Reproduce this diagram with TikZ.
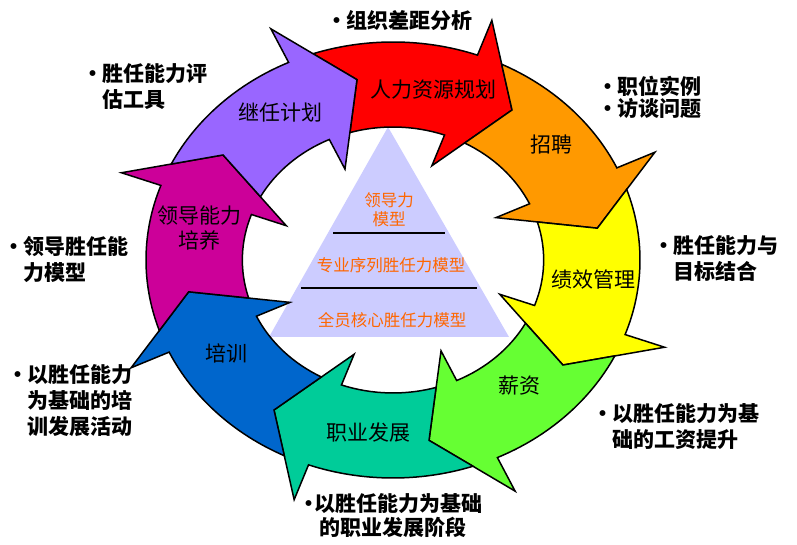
\documentclass[tikz,border=0pt]{standalone}
\usepackage{fontspec}
\newfontfamily\cjk{Noto Sans CJK SC}
\definecolor{cRed}{RGB}{255,0,0}
\definecolor{cOrange}{RGB}{255,153,0}
\definecolor{cYellow}{RGB}{255,255,0}
\definecolor{cGreen}{RGB}{102,255,51}
\definecolor{cTeal}{RGB}{0,204,153}
\definecolor{cBlue}{RGB}{0,102,204}
\definecolor{cMagenta}{RGB}{204,0,153}
\definecolor{cPurple}{RGB}{153,102,255}
\definecolor{cTri}{RGB}{204,204,255}
\definecolor{cTxt}{RGB}{255,102,0}
\newcommand{\bul}{\makebox[18pt][c]{•}}
\newcommand{\ind}{\hspace*{18pt}}
\tikzset{
  seg/.style={draw=black, line width=1.5pt, line join=miter, miter limit=6},
  inlbl/.style={font=\cjk\fontsize{21}{25}\selectfont, inner sep=0pt, align=center},
  tritxt/.style={font=\cjk\fontsize{16.5}{19}\selectfont, text=cTxt, inner sep=0pt, align=center},
  outlbl/.style={font=\cjk\bfseries\fontsize{21}{26}\selectfont, inner sep=0pt, align=left, anchor=west},
  triline/.style={draw=black, line width=1.6pt},
}
\begin{document}
\begin{tikzpicture}[x=1pt,y=1pt]
\useasboundingbox (0,0) rectangle (797,545);
\fill[white] (0,0) rectangle (797,545);
% pyramid
\fill[cTri] (388,418) -- (269,208) -- (509,208) -- cycle;
\draw[triline] (333,312) -- (445,312);
\draw[triline] (301,257) -- (477,257);
% ring of arrows
\begin{scope}[shift={(393,285)}, xscale=247, yscale=218]
  \foreach \ang/\col in {70/cRed, 25/cOrange, -20/cYellow, -65/cGreen, -110/cTeal, -155/cBlue, -200/cMagenta, -245/cPurple}{
    \draw[seg, fill=\col, rotate=\ang]
      (38.9:1) arc[start angle=38.9, end angle=0, radius=1]
      -- (0:1.17) -- (-15:0.84) -- (0:0.46) -- (0:0.61)
      arc[start angle=0, end angle=36.6, radius=0.61]
      -- (30:0.84) -- cycle;
  }
\end{scope}
% arrow labels
\node[inlbl] (hr)   at (433,455) {人力资源规划};
\node[inlbl] (zp)   at (551,400) {招聘};
\node[inlbl] (jx)   at (593,265) {绩效管理};
\node[inlbl] (xz)   at (519,159) {薪资};
\node[inlbl] (zy)   at (368,112) {职业发展};
\node[inlbl] (px)   at (226,192) {培训};
\node[inlbl] (ld)   at (199,317) {领导能力\\培养};
\node[inlbl] (jr)   at (280,432) {继任计划};
% pyramid labels
\node[tritxt] (m1) at (389,335) {领导力\\模型};
\node[tritxt] (m2) at (391,280) {专业序列胜任力模型};
\node[tritxt] (m3) at (392,225) {全员核心胜任力模型};
% outer labels
\node[outlbl] (o1) at (328,525) {\bul 组织差距分析};
\node[outlbl, font=\cjk\bfseries\fontsize{21}{22}\selectfont] (o2) at (599,448) {\bul 职位实例\\\bul 访谈问题};
\node[outlbl] (o3) at (655,286.5) {\bul 胜任能力与\\\ind 目标结合};
\node[outlbl] (o4) at (594,118.5) {\bul 以胜任能力为基\\\ind 础的工资提升};
\node[outlbl, anchor=center, align=center, font=\cjk\bfseries\fontsize{21}{24}\selectfont] (o5) at (393,29) {\makebox[10pt][c]{•}以胜任能力为基础\\的职业发展阶段};
\node[outlbl] (o6) at (9,144) {\bul 以胜任能力\\\ind 为基础的培\\\ind 训发展活动};
\node[outlbl] (o7) at (5,285) {\bul 领导胜任能\\\ind 力模型};
\node[outlbl] (o8) at (84,458.5) {\bul 胜任能力评\\\ind 估工具};
\end{tikzpicture}
\end{document}
